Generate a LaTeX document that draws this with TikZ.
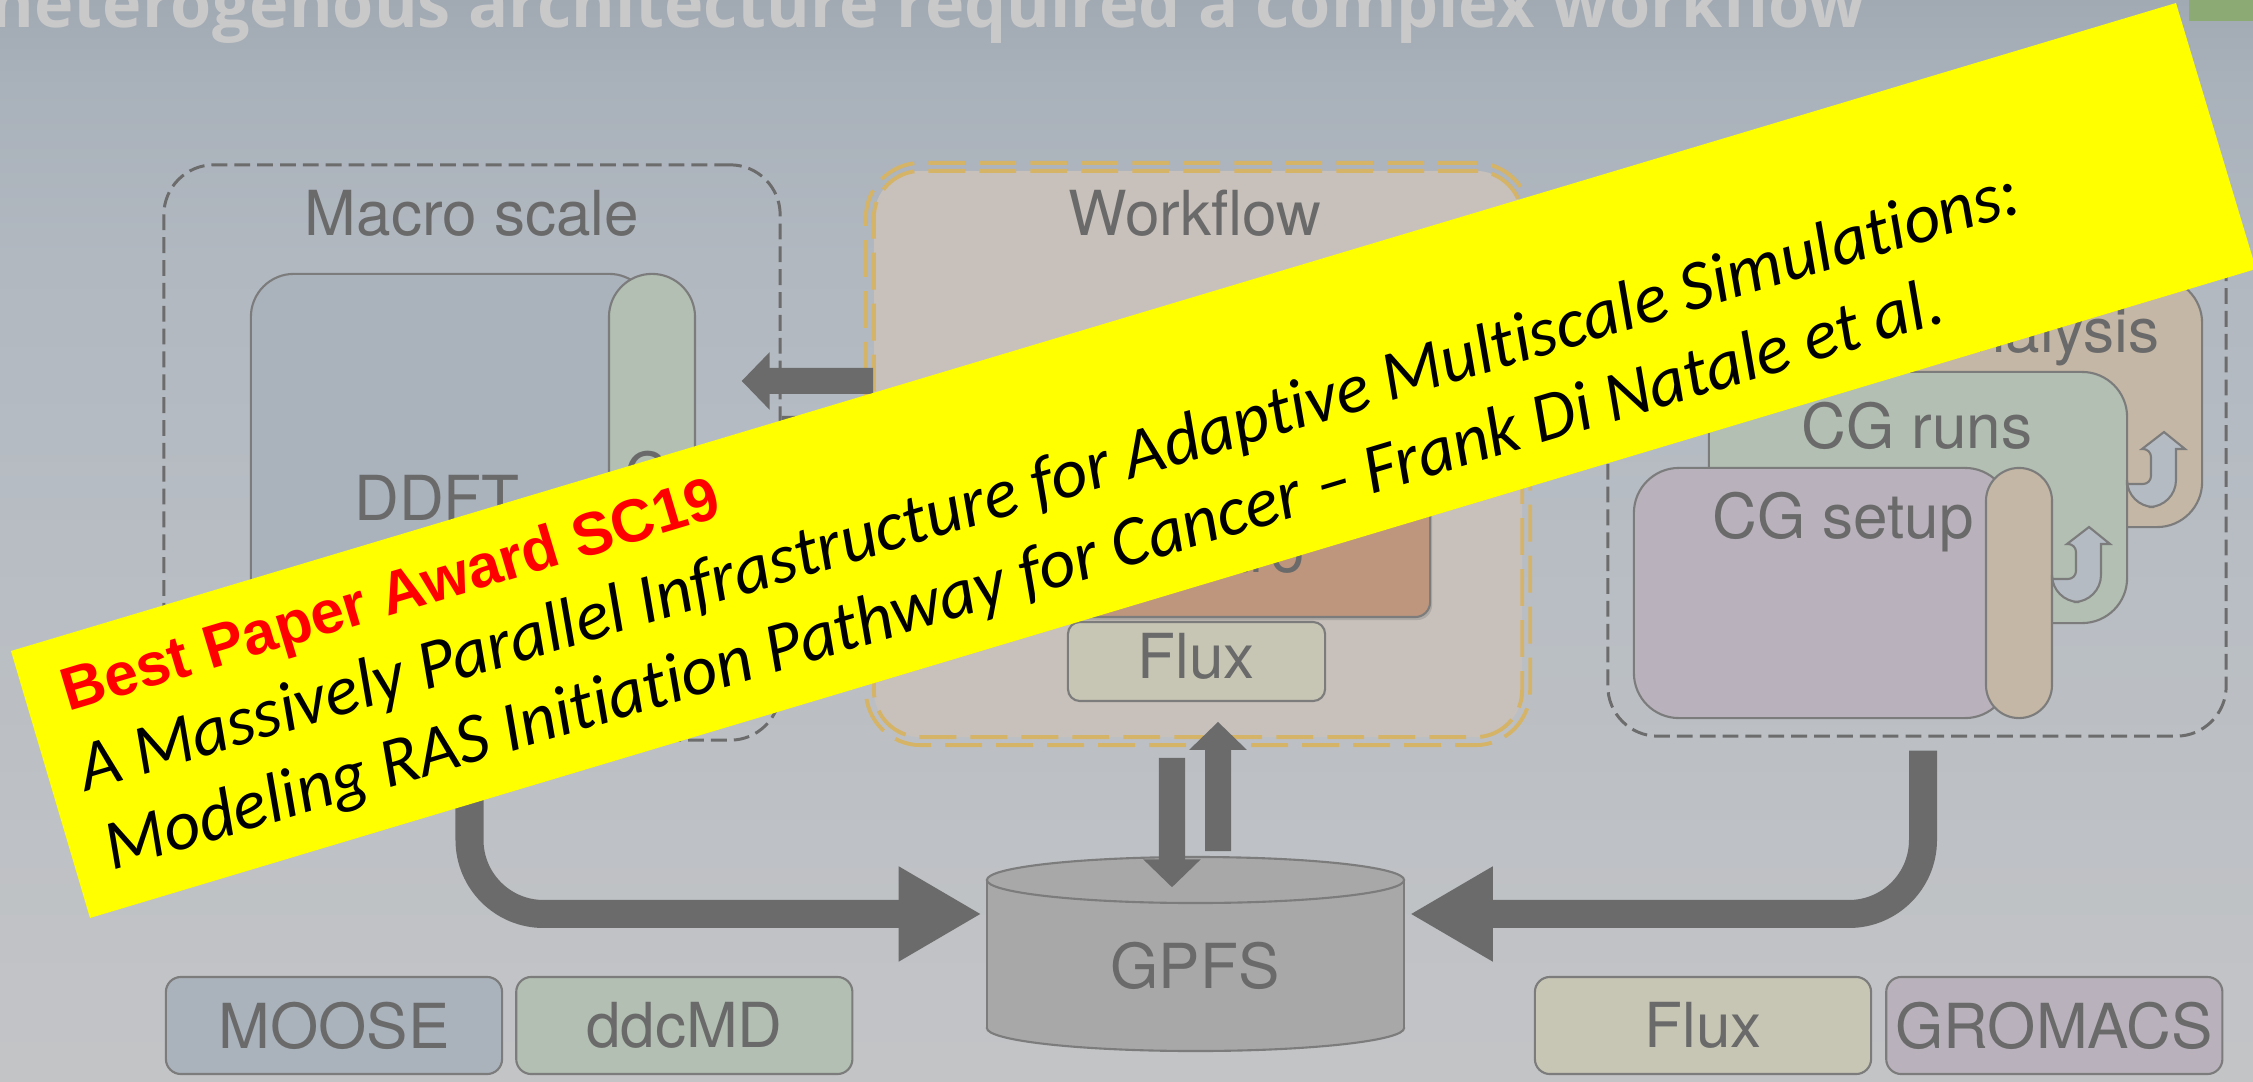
\documentclass[tikz,border=0pt]{standalone}
\usepackage{fontspec}
\setmainfont{TeX Gyre Heros}
\newfontfamily\titlefont{Open Sans}
\newfontfamily\paperfont[Ligatures={NoCommon}]{Carlito}
\newfontfamily\awardfont{Liberation Sans}
\usepackage{tikz}
\usetikzlibrary{arrows.meta, positioning, shadows}

\definecolor{bgTop}{HTML}{A1A9B3}
\definecolor{bgUp}{HTML}{A9B1BA}
\definecolor{bgMid}{HTML}{B1B8C0}
\definecolor{bgLow}{HTML}{B9BEC4}
\definecolor{bgBot}{HTML}{C3C4C6}
\definecolor{tabGreen}{HTML}{8CAA74}
\definecolor{titleGrey}{HTML}{C9C9C9}
\definecolor{txtGrey}{HTML}{6A6A6A}
\definecolor{edgeGrey}{HTML}{7C7C7C}
\definecolor{dashGrey}{HTML}{6C6C6C}
\definecolor{arrGrey}{HTML}{6B6B6B}
\definecolor{ddftBlue}{HTML}{AAB2BC}
\definecolor{cgGreen}{HTML}{B2BFB2}
\definecolor{wfBeige}{HTML}{C8C0BA}
\definecolor{wfGold}{HTML}{D5B367}
\definecolor{maestroBrown}{HTML}{BE967D}
\definecolor{fluxKhaki}{HTML}{C7C6B4}
\definecolor{setupPurple}{HTML}{B9B2BC}
\definecolor{anaTan}{HTML}{C5B7A5}
\definecolor{cylGrey}{HTML}{A8A8A8}
\definecolor{hollowFill}{HTML}{B4BBC3}
\definecolor{bannerYellow}{HTML}{FFFF00}
\definecolor{awardRed}{HTML}{FF0000}

\pgfdeclareverticalshading{slidebg}{100bp}{color(0bp)=(bgBot); color(25bp)=(bgBot);
  color(47bp)=(bgLow); color(63bp)=(bgMid); color(71bp)=(bgUp); color(75bp)=(bgTop); color(100bp)=(bgTop)}

\begin{document}
\begin{tikzpicture}[
  x=0.01cm, y=-0.01cm,
  lbl/.style={font=\fontsize{17.64}{21}\selectfont, text=txtGrey, inner sep=0, anchor=base},
  card/.style={rectangle, draw=edgeGrey, line width=0.6pt, inner sep=0},
  tool/.style={card, rounded corners=0.15cm, minimum width=3.36cm, minimum height=0.97cm},
  scaleBox/.style={rectangle, rounded corners=0.5cm, draw=dashGrey, line width=0.85pt,
                   dash pattern=on 4.5pt off 2pt},
  wfLine/.style={rectangle, draw=wfGold, line width=1.1pt, dash pattern=on 10.5pt off 4pt},
  arr/.style={-{Triangle[length=0.28cm, width=0.56cm]}, line width=0.26cm, draw=arrGrey},
  bigArr/.style={-{Triangle[length=0.83cm, width=0.89cm]}, line width=0.28cm, draw=arrGrey,
                 rounded corners=0.74cm},
  hollow/.style={draw=edgeGrey, fill=hollowFill, line width=0.6pt},
  cyl/.style={fill=cylGrey, draw=edgeGrey, line width=0.6pt},
  paper/.style={font=\paperfont\itshape\fontsize{20.06}{24}\selectfont, inner sep=0,
                anchor=base west, rotate=16.66}
]
\useasboundingbox (0,0) rectangle (2253,1081);
\clip (0,0) rectangle (2253,1081);

% slide background
\shade[shading=slidebg] (0,0) rectangle (2253,1081);
\fill[tabGreen] (2189,0) rectangle (2253,21);
\node[font=\titlefont\bfseries\fontsize{18.93}{22}\selectfont, text=titleGrey, inner sep=0,
      anchor=base west] (title) at (-10,27) {heterogenous architecture required a complex workflow};

% macro scale
\node[scaleBox, minimum width=6.16cm, minimum height=5.75cm] (macro) at (472,452.5) {};
\node[lbl] (macroLbl) at (472,235) {Macro scale};
\node[card, fill=ddftBlue, rounded corners=0.43cm, minimum width=4.01cm, minimum height=4.44cm] (ddft) at (451.5,496) {};
\node[card, fill=cgGreen, rounded corners=0.43cm, minimum width=0.86cm, minimum height=4.44cm] (cgStrip) at (652,496) {};
\node[lbl] (ddftLbl) at (437,520) {DDFT};
\node[lbl] (stripLbl) at (647,497) {C};

% workflow
\node[rectangle, rounded corners=0.47cm, fill=wfBeige, minimum width=6.48cm, minimum height=5.66cm] (wf) at (1198,454) {};
\node[wfLine, rounded corners=0.55cm, minimum width=6.64cm, minimum height=5.82cm] (wfOuter) at (1198,454) {};
\node[wfLine, rounded corners=0.47cm, minimum width=6.48cm, minimum height=5.66cm] (wfInner) at (1198,454) {};
\node[lbl] (wfLbl) at (1195,235) {Workflow};
\node[card, fill=maestroBrown, rounded corners=0.15cm, minimum width=4.7cm, minimum height=1.47cm,
      drop shadow={shadow xshift=0.02cm, shadow yshift=-0.03cm, opacity=0.35}] (maestro) at (1195,543.5) {};
\node[lbl] (maestroLbl) at (1193,572) {Maestro};
\node[card, fill=fluxKhaki, rounded corners=0.12cm, minimum width=2.57cm, minimum height=0.79cm] (wfFlux) at (1196.5,661.5) {};
\node[lbl] (wfFluxLbl) at (1196,678) {Flux};

% CG stack
\node[scaleBox, minimum width=6.18cm, minimum height=5.71cm] (cg) at (1917,450.5) {};
\node[card, fill=anaTan, rounded corners=0.45cm, minimum width=4.18cm, minimum height=2.49cm] (ana) at (1993,402.5) {};
\node[lbl] (anaLbl) at (1993,352) {CG analysis};
\node[card, fill=cgGreen, rounded corners=0.45cm, minimum width=4.18cm, minimum height=2.51cm] (runs) at (1918,497.5) {};
\node[lbl] (runsLbl) at (1917,448) {CG runs};
\node[card, fill=setupPurple, rounded corners=0.45cm, minimum width=3.76cm, minimum height=2.5cm] (setup) at (1822,593) {};
\node[card, fill=anaTan, rounded corners=0.33cm, minimum width=0.66cm, minimum height=2.5cm] (setupStrip) at (2019,593) {};
\node[lbl] (setupLbl) at (1843,538) {CG setup};
\foreach \dx/\dy in {0/0, 75/-95}
  \filldraw[hollow, shift={(\dx,\dy)}] (2052,579) [rounded corners=0.08cm] -- (2076,579) -- (2076,544)
    [sharp corners] -- (2067,544) -- (2089,527) -- (2110,544) -- (2101,544)
    [rounded corners=0.27cm] -- (2101,602) -- (2052,602) [sharp corners] -- cycle;

% GPFS
\filldraw[cyl] (1195.5,1028) ellipse [x radius=2.085cm, y radius=0.23cm];
\fill[cylGrey] (987,880) rectangle (1404,1028);
\draw[edgeGrey, line width=0.6pt] (987,880) -- (987,1028) (1404,880) -- (1404,1028);
\filldraw[cyl] (1195.5,880) ellipse [x radius=2.085cm, y radius=0.23cm];
\node[rectangle, inner sep=0, minimum width=4.17cm, minimum height=1.94cm] (gpfs) at (1195.5,954) {};
\node[lbl] (gpfsLbl) at (1195,988) {GPFS};

% data flow
\draw[arr] ([yshift=0.73cm]wf.west) -- ([xshift=-0.4cm, yshift=0.715cm]macro.east);
\draw[arr] ([yshift=0.235cm]macro.east) -- ([xshift=0.36cm, yshift=0.25cm]wf.west);
\draw[arr] ([xshift=-0.26cm, yshift=-0.2cm]wf.south) -- ([xshift=-0.235cm, yshift=-0.31cm]gpfs.north);
\draw[arr] ([xshift=0.225cm, yshift=0.05cm]gpfs.north) -- ([xshift=0.2cm, yshift=0.16cm]wf.south);
\draw[bigArr] ([xshift=-0.025cm]macro.south) |- ([xshift=-0.045cm, yshift=0.4cm]gpfs.west);
\draw[bigArr] ([xshift=0.06cm, yshift=-0.13cm]cg.south) |- ([xshift=0.05cm, yshift=0.4cm]gpfs.east);

% software
\node[tool, fill=ddftBlue, font=\fontsize{17.64}{21}\selectfont, text=txtGrey] (moose) at (334,1025.5) {MOOSE};
\node[tool, fill=cgGreen, font=\fontsize{17.64}{21}\selectfont, text=txtGrey, right=0.12cm of moose] (ddcmd) {ddcMD};
\node[tool, fill=fluxKhaki, font=\fontsize{17.64}{21}\selectfont, text=txtGrey] (flux) at (1703,1025.5) {Flux};
\node[tool, fill=setupPurple, font=\fontsize{17.64}{21}\selectfont, text=txtGrey, right=0.13cm of flux] (gromacs) {GROMACS};

% award banner
\fill[bannerYellow] (11,651) -- (2176,3) -- (2256,269) -- (90,918) -- cycle;
\node[font=\awardfont\bfseries\fontsize{17.19}{21}\selectfont, text=awardRed, inner sep=0,
      anchor=base west, rotate=16.66] (award) at (68,712) {Best Paper Award SC19};
\node[paper] (paperA) at (86,792) {A Massively Parallel Infrastructure for Adaptive Multiscale Simulations:};
\node[paper] (paperB) at (112,871) {Modeling RAS Initiation Pathway for Cancer – Frank Di Natale et al.};
\end{tikzpicture}
\end{document}
